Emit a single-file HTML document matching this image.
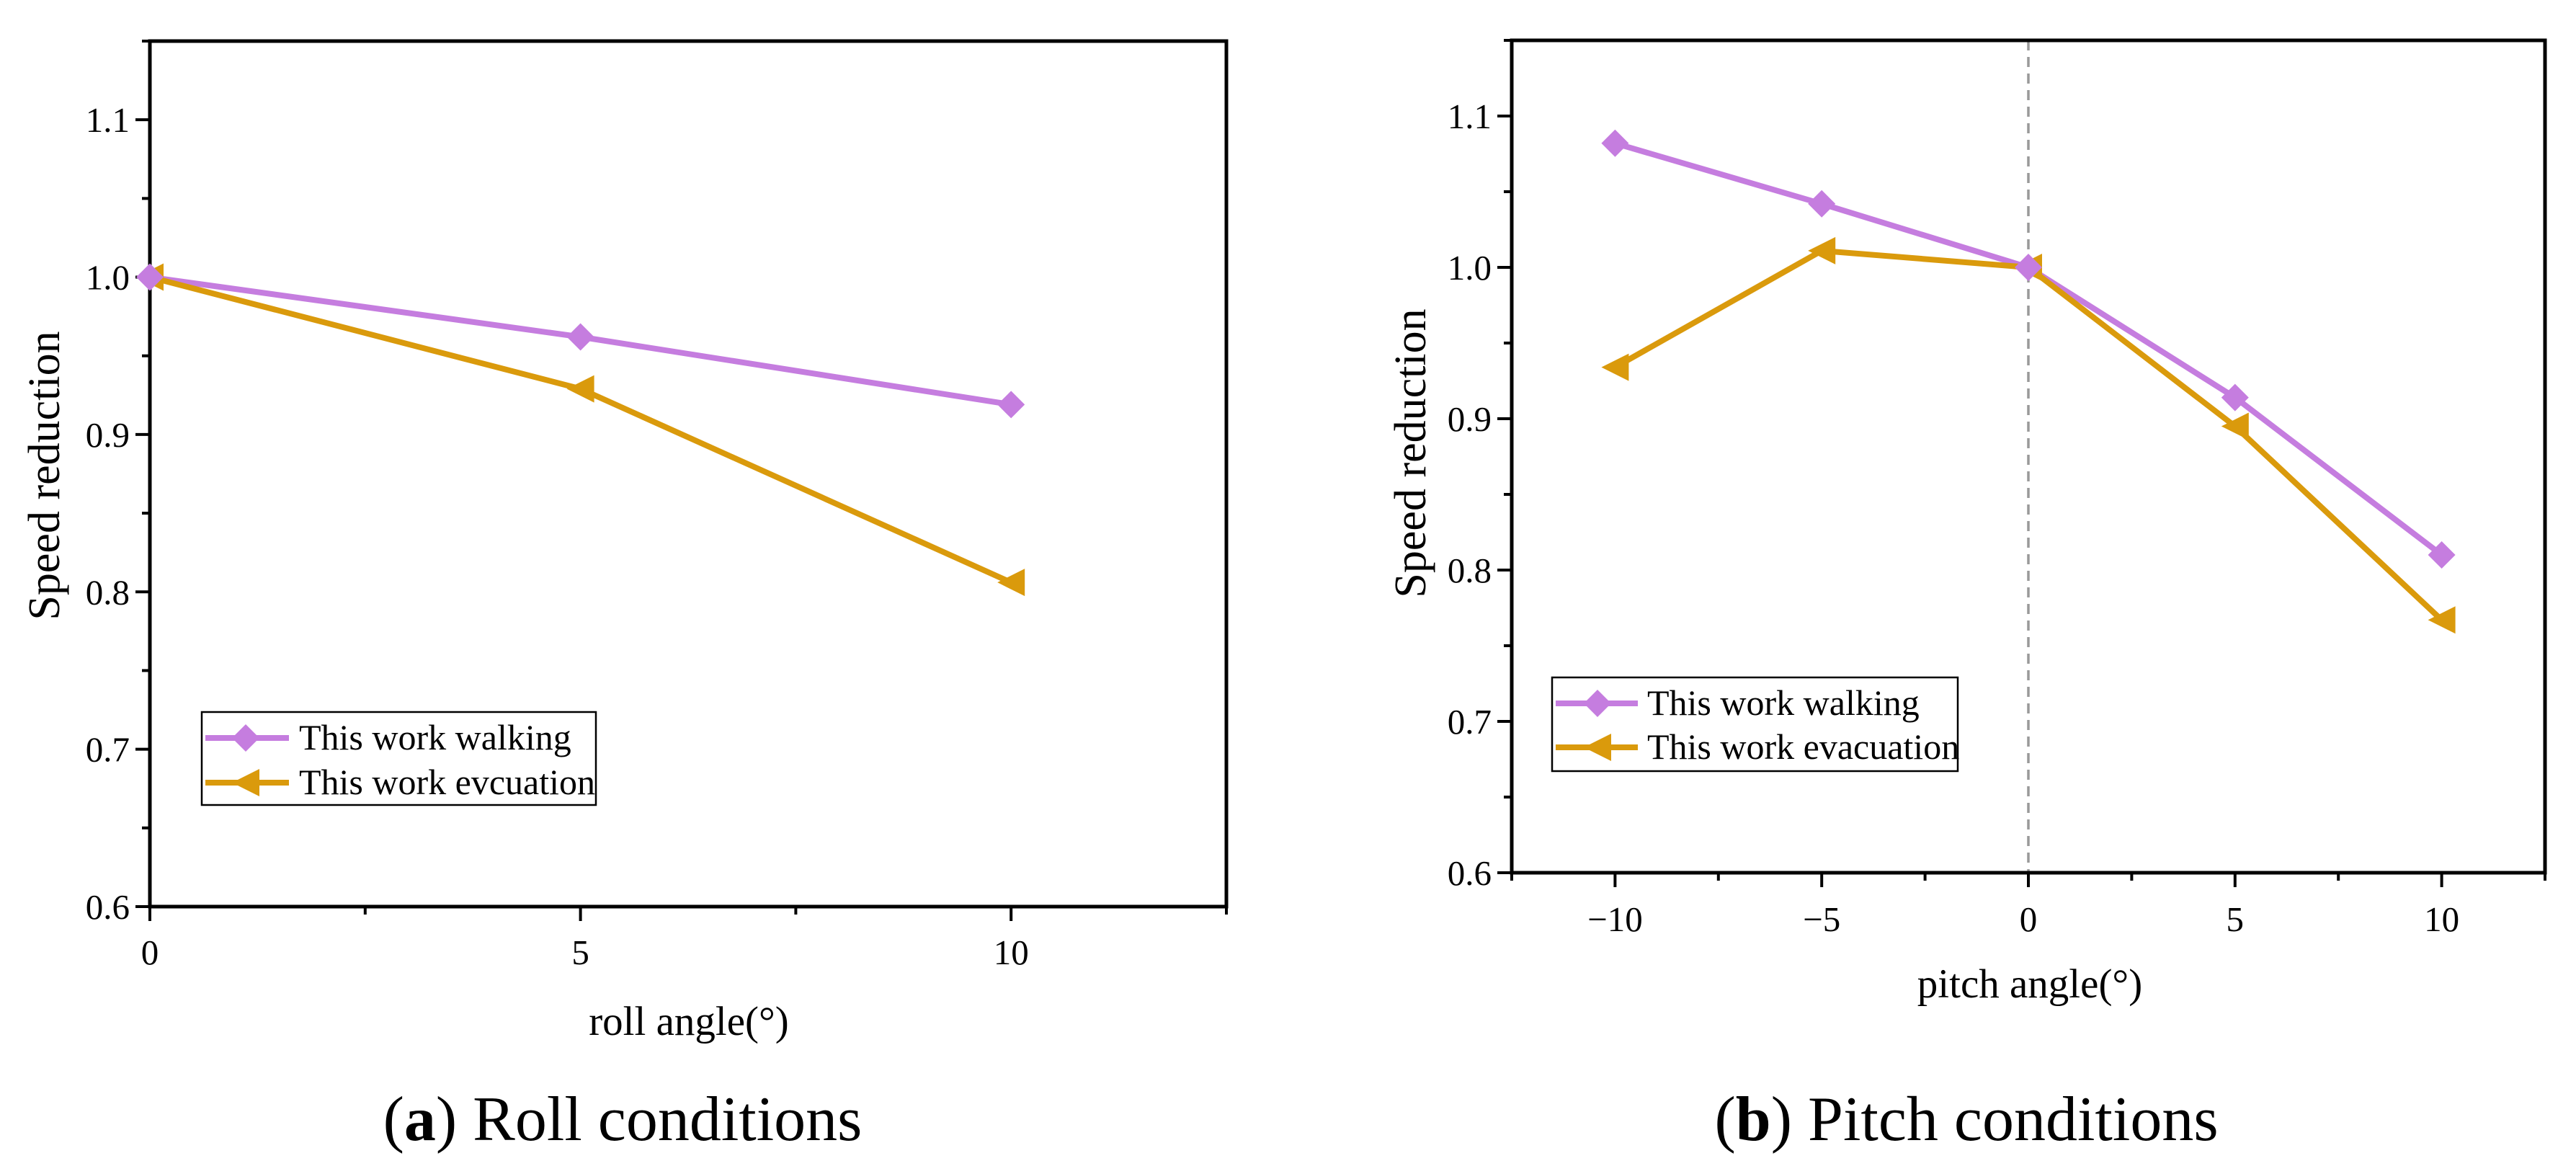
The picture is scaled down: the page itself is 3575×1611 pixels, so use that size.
<!DOCTYPE html>
<html><head><meta charset="utf-8"><style>
html,body{margin:0;padding:0;background:#fff;}
svg{display:block;font-family:"Liberation Serif",serif;}
</style></head><body>
<svg id="fig" width="3575" height="1611" viewBox="0 0 3575 1611" xmlns="http://www.w3.org/2000/svg"></svg>
<script>
// Panel (a) data
const rollX = [0, 5, 10];
const rollWalking = [1.0, 0.962, 0.919];
const rollEvac = [1.0, 0.929, 0.806];
const rollXTicks = [0, 5, 10];
// Panel (b) data
const pitchX = [-10, -5, 0, 5, 10];
const pitchWalking = [1.082, 1.042, 1.0, 0.914, 0.81];
const pitchEvac = [0.934, 1.011, 1.0, 0.895, 0.767];
const pitchXTicks = [-10, -5, 0, 5, 10];
const yTicks = [0.6, 0.7, 0.8, 0.9, 1.0, 1.1];
const legendA = ["This work walking", "This work evcuation"];
const legendB = ["This work walking", "This work evacuation"];

const NS = "http://www.w3.org/2000/svg";
const svg = document.getElementById('fig');
const PURPLE = "#c57ddf", ORANGE = "#da9a0c";
function el(tag, attrs, parent, text){
  const e = document.createElementNS(NS, tag);
  for (const k in attrs) e.setAttribute(k, attrs[k]);
  if (text !== undefined) e.textContent = text;
  (parent || svg).appendChild(e);
  return e;
}
function diamond(g, x, y){
  const s = 19;
  const p = el('polygon', {points:`${x},${y-s} ${x+s},${y} ${x},${y+s} ${x-s},${y}`, fill:PURPLE}, g);
  
  
}
function tri(g, x, y){
  const s = 19;
  const p = el('polygon', {points:`${x-s},${y} ${x+s},${y-s} ${x+s},${y+s}`, fill:ORANGE}, g);
  
  
}
function panel(cfg){
  const g = el('g', {});
  
  
  const {L,R,T,B,xmin,xmax,ymin,ymax} = cfg;
  const sx = v => L + (v - xmin) / (xmax - xmin) * (R - L);
  const sy = v => B - (v - ymin) / (ymax - ymin) * (B - T);
  if (cfg.zeroLine){
    const d = el('line', {x1:sx(0), x2:sx(0), y1:T, y2:B, stroke:"#999", 'stroke-width':3.5, 'stroke-dasharray':"14,9"}, g);
    
    
  }
  const f = el('rect', {x:L, y:T, width:R-L, height:B-T, fill:"none", stroke:"#000", 'stroke-width':5}, g);
  
  
  for (let v = ymin; v <= ymax + 1e-9; v += 0.05){
    const major = Math.abs(Math.round(v*10) - v*10) < 1e-6;
    el('line', {x1:L, x2:L-(major?20:11), y1:sy(v), y2:sy(v), stroke:"#000", 'stroke-width':4}, g);
  }
  yTicks.forEach(v => {
    const t = el('text', {x:L-28, y:sy(v)+17, 'text-anchor':'end', 'font-size':49}, g, v.toFixed(1));
    
    
  });
  for (let v = xmin; v <= xmax + 1e-9; v += 2.5){
    const major = Math.abs(v % 5) < 1e-6;
    el('line', {x1:sx(v), x2:sx(v), y1:B, y2:B+(major?20:11), stroke:"#000", 'stroke-width':4}, g);
  }
  cfg.xTicks.forEach(v => {
    const t = el('text', {x:sx(v), y:cfg.xLabelY, 'text-anchor':'middle', 'font-size':49}, g, v < 0 ? '\u2212' + (-v) : String(v));
    
    
  });
  const wp = cfg.x.map((v,i)=>sx(v)+','+sy(cfg.walk[i])).join(' ');
  const ep = cfg.x.map((v,i)=>sx(v)+','+sy(cfg.evac[i])).join(' ');
  const l1 = el('polyline', {points:wp, fill:'none', stroke:PURPLE, 'stroke-width':8}, g);
  
  
  const l2 = el('polyline', {points:ep, fill:'none', stroke:ORANGE, 'stroke-width':8}, g);
  
  
  cfg.x.forEach((v,i)=>{ tri(g, sx(v), sy(cfg.evac[i])); });
  cfg.x.forEach((v,i)=>{ diamond(g, sx(v), sy(cfg.walk[i])); });
  const lg = el('g', {}, g);
  
  
  const lb = cfg.leg;
  el('rect', {x:lb.x, y:lb.y, width:lb.w, height:lb.h, fill:'#fff', stroke:'#000', 'stroke-width':2.5}, lg);
  [[PURPLE, diamond, cfg.legText[0], lb.r1],[ORANGE, tri, cfg.legText[1], lb.r2]].forEach(([c, m, txt, ry])=>{
    el('line', {x1:lb.lx1, x2:lb.lx2, y1:ry, y2:ry, stroke:c, 'stroke-width':8}, lg);
    m(lg, lb.mx, ry);
    const t = el('text', {x:lb.tx, y:ry+16, 'font-size':50}, lg, txt);
    
    
  });
  const xt = el('text', {x:cfg.xTitle[0], y:cfg.xTitle[1], 'text-anchor':'middle', 'font-size':57}, g, cfg.xTitleText);
  
  
  const yt = el('text', {x:0, y:0, 'text-anchor':'middle', 'font-size':62, transform:`translate(${cfg.yTitle[0]},${cfg.yTitle[1]}) rotate(-90)`}, g, 'Speed reduction');
  
  
  const cap = el('text', {x:cfg.cap[0], y:cfg.cap[1], 'text-anchor':'middle', 'font-size':88}, g);
  
  
  el('tspan', {}, cap, '(');
  el('tspan', {'font-weight':'bold'}, cap, cfg.capLetter);
  el('tspan', {}, cap, ') ' + cfg.capText);
}
panel({name:'roll-chart', L:208, R:1702, T:57, B:1258, xmin:0, xmax:12.5, ymin:0.6, ymax:1.15,
  x:rollX, walk:rollWalking, evac:rollEvac, xTicks:rollXTicks, xLabelY:1338,
  leg:{x:280,y:988,w:547,h:129,r1:1024,r2:1086,lx1:285,lx2:401,mx:341,tx:415}, legText:legendA,
  xTitle:[956,1436], xTitleText:'roll angle(\u00B0)', yTitle:[82,660], cap:[864,1582], capLetter:'a', capText:'Roll conditions'});
panel({name:'pitch-chart', L:2098, R:3532, T:56, B:1211, xmin:-12.5, xmax:12.5, ymin:0.6, ymax:1.15, zeroLine:true,
  x:pitchX, walk:pitchWalking, evac:pitchEvac, xTicks:pitchXTicks, xLabelY:1292,
  leg:{x:2154,y:940,w:563,h:130,r1:976,r2:1037,lx1:2159,lx2:2273,mx:2217,tx:2286}, legText:legendB,
  xTitle:[2817,1384], xTitleText:'pitch angle(\u00B0)', yTitle:[1978,629], cap:[2729,1582], capLetter:'b', capText:'Pitch conditions'});
</script>
</body></html>
